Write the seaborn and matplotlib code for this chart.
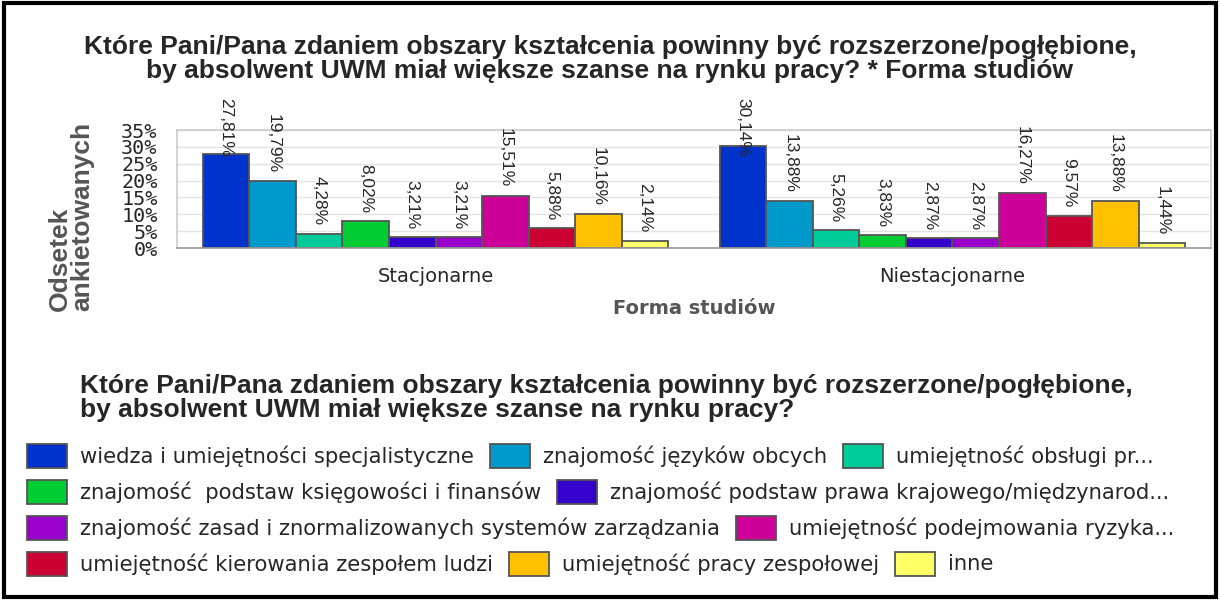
import matplotlib
matplotlib.use('Agg')
import matplotlib.pyplot as plt
from matplotlib.patches import Rectangle
from matplotlib.ticker import FixedLocator
import pandas as pd
import seaborn as sns

forms = ['Stacjonarne', 'Niestacjonarne']
areas = [
    'wiedza i umiejętności specjalistyczne',
    'znajomość języków obcych',
    'umiejętność obsługi pr...',
    'znajomość  podstaw księgowości i finansów',
    'znajomość podstaw prawa krajowego/międzynarod...',
    'znajomość zasad i znormalizowanych systemów zarządzania',
    'umiejętność podejmowania ryzyka...',
    'umiejętność kierowania zespołem ludzi',
    'umiejętność pracy zespołowej',
    'inne',
]
stacjonarne = [27.81, 19.79, 4.28, 8.02, 3.21, 3.21, 15.51, 5.88, 10.16, 2.14]
niestacjonarne = [30.14, 13.88, 5.26, 3.83, 2.87, 2.87, 16.27, 9.57, 13.88, 1.44]
colors = ['#0033cc', '#0099cc', '#00cc99', '#00cc33', '#3300cc',
          '#9900cc', '#cc0099', '#cc0033', '#ffc000', '#ffff66']
y_ticks = [0, 5, 10, 15, 20, 25, 30, 35]
legend_rows = [[0, 1, 2], [3, 4], [5, 6], [7, 8, 9]]

title = ('Które Pani/Pana zdaniem obszary kształcenia powinny być rozszerzone/pogłębione,\n'
         'by absolwent UWM miał większe szanse na rynku pracy?')

df = pd.DataFrame({
    'Forma': [f for f in forms for _ in areas],
    'Obszar': areas * 2,
    'Odsetek': stacjonarne + niestacjonarne,
})

sns.set_style('white')
plt.rcParams['font.family'] = ['DejaVu Sans']
arial = ['Liberation Sans', 'DejaVu Sans']

W, H = 1220, 600
fig = plt.figure(figsize=(W / 100, H / 100), dpi=100)
ax = fig.add_axes([177 / W, 1 - 248 / H, (1211 - 177) / W, (248 - 130) / H])

sns.barplot(data=df, x='Forma', y='Odsetek', hue='Obszar', hue_order=areas,
            order=forms, palette=colors, saturation=1, width=0.9, gap=0, ax=ax,
            edgecolor='#555555', linewidth=1.3, legend=False, errorbar=None)

ax.set_xlim(-0.5, 1.5)
ax.set_ylim(0, 35)
ax.set_yticks(y_ticks)
ax.set_yticklabels([f'{t}%' for t in y_ticks], fontsize=14.5,
                   family=['DejaVu Sans Mono', 'DejaVu Sans'])
ax.tick_params(axis='y', length=0, pad=14)
ax.tick_params(axis='x', which='major', length=0, pad=14, labelsize=14)
ax.xaxis.set_minor_locator(FixedLocator([-0.5, 0.5, 1.5]))
ax.tick_params(axis='x', which='minor', length=10, color='#bbbbbb', width=1)
ax.grid(axis='y', color='#e4e4e4', linewidth=1)
ax.set_axisbelow(True)
for side, sp in ax.spines.items():
    sp.set_color('#cccccc')
    sp.set_linewidth(1.2)
ax.spines['bottom'].set_color('#999999')
ax.set_xlabel('Forma studiów', fontsize=14, fontweight='bold', color='#555555', labelpad=9)
ax.set_ylabel('')

# value labels, rotated, above bars
for cont in ax.containers:
    for bar in cont:
        v = bar.get_height()
        x = bar.get_x() + bar.get_width() / 2
        txt = f'{v:.2f}%'.replace('.', ',')
        if v + 22.5 > 44.5:
            ax.text(x, 44.5, txt, rotation=270, ha='center', va='top',
                    fontsize=12.5, family=arial, clip_on=False)
        else:
            ax.text(x, v + 2.4, txt, rotation=270, ha='center', va='bottom',
                    fontsize=12.5, family=arial, clip_on=False)

fig.text(71 / W, 1 - 311 / H, 'Odsetek\nankietowanych', rotation=90, ha='center', va='bottom',
         multialignment='left', fontsize=19, fontweight='bold', color='#555555',
         family=arial, linespacing=0.95)

fig.text(0.5, 1 - 59 / H, title + ' * Forma studiów', ha='center', va='center',
         fontsize=19, fontweight='bold', family=arial, linespacing=1.05)

# legend
fig.text(80 / W, 1 - 398 / H, title, ha='left', va='center', fontsize=19,
         fontweight='bold', family=arial, linespacing=1.05)

renderer = fig.canvas.get_renderer()
row_y = [456, 492, 528, 564]
for r, idxs in enumerate(legend_rows):
    x = 27
    yc = 1 - row_y[r] / H
    for i in idxs:
        fig.patches.append(Rectangle((x / W, yc - 12 / H), 40 / W, 24 / H,
                                     transform=fig.transFigure, facecolor=colors[i],
                                     edgecolor='#555555', linewidth=1.3))
        t = fig.text((x + 53) / W, yc, areas[i], ha='left', va='center', fontsize=15.2)
        w = t.get_window_extent(renderer).width
        x = x + 53 + w + 16

fig.patches.append(Rectangle((4 / W, 3 / H), (W - 8) / W, (H - 6) / H,
                             transform=fig.transFigure, fill=False,
                             edgecolor='black', linewidth=3))

fig.savefig('out.png', dpi=100)
